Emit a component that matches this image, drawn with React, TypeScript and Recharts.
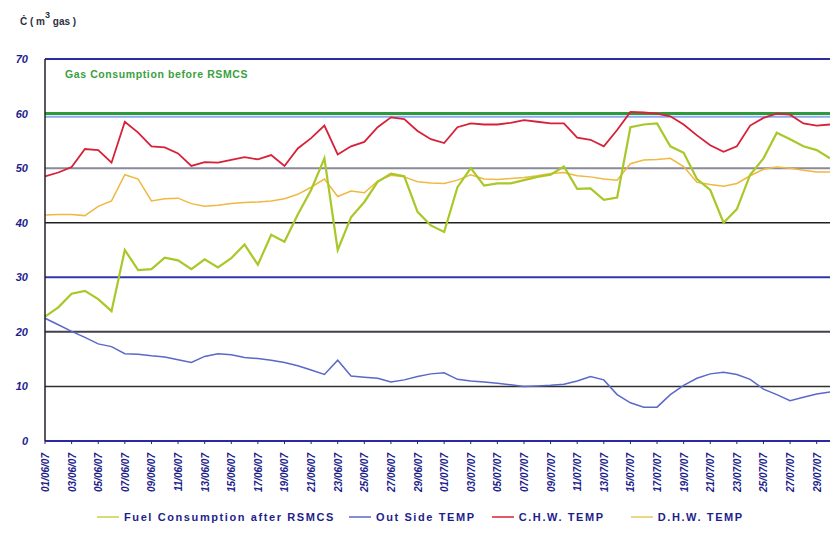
import React from "react";
import { LineChart, Line, XAxis, YAxis, ReferenceLine, Legend } from "recharts";

const dates: string[] = [
  "01/06/07","02/06/07","03/06/07","04/06/07","05/06/07","06/06/07","07/06/07","08/06/07","09/06/07","10/06/07",
  "11/06/07","12/06/07","13/06/07","14/06/07","15/06/07","16/06/07","17/06/07","18/06/07","19/06/07","20/06/07",
  "21/06/07","22/06/07","23/06/07","24/06/07","25/06/07","26/06/07","27/06/07","28/06/07","29/06/07","30/06/07",
  "01/07/07","02/07/07","03/07/07","04/07/07","05/07/07","06/07/07","07/07/07","08/07/07","09/07/07","10/07/07",
  "11/07/07","12/07/07","13/07/07","14/07/07","15/07/07","16/07/07","17/07/07","18/07/07","19/07/07","20/07/07",
  "21/07/07","22/07/07","23/07/07","24/07/07","25/07/07","26/07/07","27/07/07","28/07/07","29/07/07","30/07/07",
];

const fuelAfter: number[] = [
  22.8, 24.5, 27, 27.5, 26, 23.8, 35, 31.3, 31.5, 33.6,
  33.1, 31.5, 33.3, 31.8, 33.5, 36, 32.3, 37.8, 36.5, 41.5,
  46, 51.8, 35, 41, 43.8, 47.5, 49, 48.5, 42, 39.5,
  38.3, 46.5, 50, 46.8, 47.2, 47.2, 47.8, 48.4, 48.8, 50.3,
  46.2, 46.3, 44.2, 44.6, 57.5, 58, 58.2, 54, 52.8, 48,
  46, 40, 42.5, 48.8, 51.8, 56.5, 55.3, 54, 53.3, 51.8,
];

const outsideTemp: number[] = [
  22.5, 21.3, 20.1, 19, 17.8, 17.3, 16, 15.9, 15.6, 15.4,
  14.9, 14.4, 15.5, 16, 15.8, 15.3, 15.1, 14.8, 14.4, 13.8,
  13, 12.2, 14.8, 11.9, 11.7, 11.5, 10.8, 11.2, 11.8, 12.3,
  12.5, 11.3, 11, 10.8, 10.6, 10.3, 10, 10.1, 10.2, 10.4,
  11, 11.8, 11.2, 8.5, 7, 6.2, 6.2, 8.5, 10.2, 11.5,
  12.3, 12.6, 12.2, 11.3, 9.5, 8.5, 7.4, 8, 8.6, 9,
];

const chwTemp: number[] = [
  48.5, 49.2, 50.2, 53.5, 53.3, 51, 58.5, 56.5, 54, 53.8,
  52.7, 50.4, 51.1, 51, 51.5, 52, 51.6, 52.4, 50.4, 53.6,
  55.5, 57.8, 52.5, 54, 54.8, 57.5, 59.3, 59, 56.8, 55.3,
  54.6, 57.5, 58.2, 58, 58, 58.3, 58.8, 58.5, 58.2, 58.2,
  55.6, 55.2, 54, 57, 60.3, 60.2, 60, 59.5, 58, 56,
  54.2, 53, 54, 57.8, 59.2, 60, 59.8, 58.2, 57.8, 58,
];

const dhwTemp: number[] = [
  41.4, 41.5, 41.5, 41.3, 43, 44, 48.8, 48, 44, 44.4,
  44.5, 43.5, 43, 43.2, 43.5, 43.7, 43.8, 44, 44.4, 45.2,
  46.5, 48, 44.8, 45.8, 45.5, 47.6, 48.7, 48.4, 47.5, 47.3,
  47.2, 47.8, 48.8, 48, 47.9, 48.1, 48.3, 48.6, 49, 49.2,
  48.6, 48.4, 48, 47.8, 50.8, 51.5, 51.6, 51.8, 50.3, 47.4,
  47, 46.7, 47.2, 48.6, 49.8, 50.2, 50, 49.6, 49.3, 49.3,
];

const yTicks: number[] = [0, 10, 20, 30, 40, 50, 60, 70];
const gasBefore = 60;

const data = dates.map((d, i) => ({
  date: d,
  fuel: fuelAfter[i],
  out: outsideTemp[i],
  chw: chwTemp[i],
  dhw: dhwTemp[i],
}));

const NAVY = "#1e1e8c";

const XTick = (props: any) => {
  const { x, y, payload } = props;
  return (
    <g transform={`translate(${x},${y + 7})`}>
      <text
        transform="rotate(-90)"
        textAnchor="end"
        dy={4}
        fill={NAVY}
        fontSize={10}
        fontWeight="bold"
        fontStyle="italic"
        fontFamily="'Liberation Sans', Arial, sans-serif"
      >
        {payload.value}
      </text>
    </g>
  );
};

const YTick = (props: any) => {
  const { x, y, payload } = props;
  return (
    <text
      x={x}
      y={y}
      dy={4}
      textAnchor="end"
      fill={NAVY}
      fontSize={11}
      fontWeight="bold"
      fontStyle="italic"
      fontFamily="'Liberation Sans', Arial, sans-serif"
    >
      {payload.value}
    </text>
  );
};

const legendItems = [
  { key: "fuel", name: "Fuel Consumption after RSMCS", color: "#c9d24a", mr: 14 },
  { key: "out", name: "Out Side TEMP", color: "#5a68c8", mr: 16 },
  { key: "chw", name: "C.H.W. TEMP", color: "#d82030", mr: 26 },
  { key: "dhw", name: "D.H.W. TEMP", color: "#e8c860", mr: 0 },
];

const LegendContent = () => (
  <div
    style={{
      display: "flex",
      alignItems: "center",
      paddingLeft: 97,
      fontFamily: "'Liberation Sans', Arial, sans-serif",
    }}
  >
    {legendItems.map((it) => (
      <div key={it.key} style={{ display: "flex", alignItems: "center", marginRight: it.mr }}>
        <svg width={22} height={8} style={{ marginRight: 5 }}>
          <line x1={0} y1={4} x2={22} y2={4} stroke={it.color} strokeWidth={1.5} />
        </svg>
        <span
          style={{
            color: NAVY,
            fontSize: 11,
            fontWeight: "bold",
            letterSpacing: 1.6,
            whiteSpace: "nowrap",
          }}
        >
          {it.name}
        </span>
      </div>
    ))}
  </div>
);

const GasLabel = (props: any) => {
  const { viewBox } = props;
  return (
    <text
      x={viewBox.x + 20}
      y={viewBox.y - 36}
      fill="#3aa040"
      fontSize={10.5}
      fontWeight="bold"
      letterSpacing={0.6}
      fontFamily="'Liberation Sans', Arial, sans-serif"
    >
      Gas Consumption before RSMCS
    </text>
  );
};

const UnitLabel = () => (
  <text x={20} y={25} fill="#303040" fontSize={10} fontWeight="bold" fontFamily="'Liberation Sans', Arial, sans-serif">
    <tspan>Ċ ( m</tspan>
    <tspan dy={-7} fontSize={9}>3</tspan>
    <tspan dy={7}> gas )</tspan>
  </text>
);

export default function App() {
  return (
    <div style={{ position: "absolute", left: 0, top: 0, width: 830, height: 545, background: "#ffffff" }}>
      <LineChart
        width={830}
        height={545}
        data={data}
        margin={{ top: 59, right: 0, bottom: 44, left: 0 }}
      >
        <XAxis
          dataKey="date"
          interval={1}
          height={60}
          tick={<XTick />}
          tickLine={{ stroke: NAVY }}
          tickSize={3}
          axisLine={{ stroke: "#2a2aa0", strokeWidth: 2 }}
        />
        <YAxis
          domain={[0, 70]}
          ticks={yTicks}
          width={45}
          tickLine={false}
          tickSize={0}
          tickMargin={17}
          tick={<YTick />}
          axisLine={{ stroke: "#202028", strokeWidth: 1.5 }}
          label={<UnitLabel />}
        />
        <ReferenceLine y={70} stroke="#2c2ca0" strokeWidth={2} />
        <ReferenceLine y={59.4} stroke="#90a8f0" strokeWidth={2} />
        <ReferenceLine y={gasBefore} stroke="#2f9a3c" strokeWidth={3} label={<GasLabel />} />
        <ReferenceLine y={50} stroke="#8a8a9a" strokeWidth={2} />
        <ReferenceLine y={40} stroke="#202020" strokeWidth={1.5} />
        <ReferenceLine y={30} stroke="#3434b0" strokeWidth={2} />
        <ReferenceLine y={20} stroke="#404050" strokeWidth={2} />
        <ReferenceLine y={10} stroke="#303030" strokeWidth={1.5} />
        <Line
          type="linear"
          dataKey="dhw"
          name="D.H.W. TEMP"
          stroke="#f0b840"
          strokeWidth={1.5}
          dot={false}
          isAnimationActive={false}
        />
        <Line
          type="linear"
          dataKey="out"
          name="Out Side TEMP"
          stroke="#5a68c8"
          strokeWidth={1.5}
          dot={false}
          isAnimationActive={false}
        />
        <Line
          type="linear"
          dataKey="chw"
          name="C.H.W. TEMP"
          stroke="#d82038"
          strokeWidth={1.8}
          dot={false}
          isAnimationActive={false}
        />
        <Line
          type="linear"
          dataKey="fuel"
          name="Fuel Consumption after RSMCS"
          stroke="#a8c828"
          strokeWidth={2.2}
          dot={false}
          isAnimationActive={false}
        />
        <Legend
          verticalAlign="middle"
          align="center"
          layout="horizontal"
          content={<LegendContent />}
          wrapperStyle={{ top: 511, left: 0, width: 830 }}
        />
      </LineChart>
    </div>
  );
}
